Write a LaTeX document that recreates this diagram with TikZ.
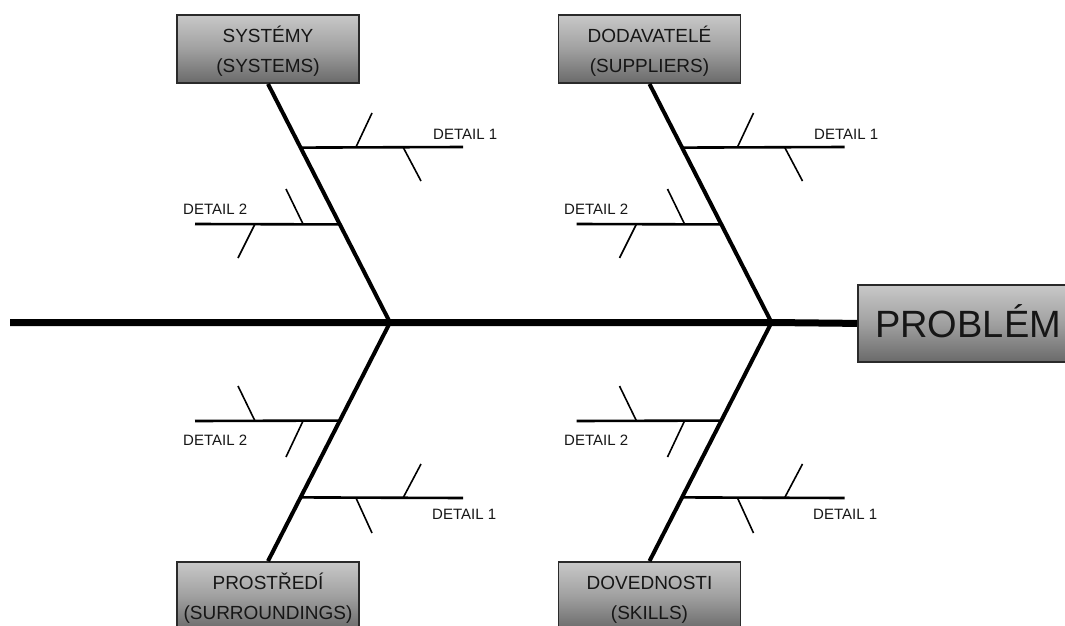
\documentclass[tikz,border=0pt]{standalone}
\usepackage{fontspec}
\setmainfont{Liberation Sans}
\usetikzlibrary{calc}
\definecolor{boxtop}{HTML}{C8C8C8}
\definecolor{boxmid}{HTML}{A0A0A0}
\definecolor{boxbot}{HTML}{6A6A6A}
\definecolor{edgec}{HTML}{2A2A2A}
\definecolor{ink}{HTML}{161616}
\begin{document}
\begin{tikzpicture}[x=1pt,y=-1pt,
  catbox/.style={draw=edgec, line width=1.8pt, top color=boxtop, bottom color=boxbot, middle color=boxmid, minimum width=182pt, minimum height=68pt, inner sep=0pt},
  probbox/.style={draw=edgec, line width=1.8pt, top color=boxtop, bottom color=boxbot, middle color=boxmid, minimum width=215pt, minimum height=77pt, inner sep=0pt, anchor=north west},
  cattext/.style={font=\fontsize{19}{19}\selectfont, text=ink, anchor=base, inner sep=0pt},
  probtext/.style={font=\fontsize{38}{38}\selectfont, text=ink, anchor=base west, inner sep=0pt},
  detail/.style={font=\fontsize{15}{15}\selectfont, text=ink, anchor=base west, inner sep=0pt},
  spine/.style={line width=7pt},
  bone/.style={line width=4pt},
  subbone/.style={line width=2.6pt},
  rib/.style={line width=1.6pt}]
\useasboundingbox (0,0) rectangle (1065,626);
\clip (0,0) rectangle (1065,626);
\fill[white] (0,0) rectangle (1065,626);

% junctions and tail
\coordinate (tail) at (10,322.5);
\coordinate (j1) at (390,322.5);
\coordinate (j2) at (771.5,322.5);

% boxes
\node[catbox] (sys) at (268,49) {};
\node[catbox] (sup) at (649.5,49) {};
\node[catbox] (env) at (268,596) {};
\node[catbox] (skl) at (649.5,596) {};
\node[probbox] (prob) at (857,284) {};

% spine
\draw[spine] (tail) -- (j1) -- (j2) -- (prob.west);

% bones
\draw[bone] (sys.south) -- (j1);
\draw[bone] (j1) -- (env.north);
\draw[bone] (sup.south) -- (j2);
\draw[bone] (j2) -- (skl.north);

% ---- left half ----
\coordinate (s1) at ($(sys.south)!0.267!(j1)$);
\coordinate (e1) at (463,147);
\coordinate (s2) at ($(sys.south)!0.589!(j1)$);
\coordinate (e2) at (195,224);
\coordinate (s3) at ($(j1)!0.411!(env.north)$);
\coordinate (e3) at (195,421);
\coordinate (s4) at ($(j1)!0.733!(env.north)$);
\coordinate (e4) at (463,498);
\draw[subbone] (s1) -- (e1);
\draw[subbone] (s2) -- (e2);
\draw[subbone] (s3) -- (e3);
\draw[subbone] (s4) -- (e4);
\draw[rib] (356,147) -- (372,113);
\draw[rib] (403,147) -- (421,181);
\draw[rib] (303,224) -- (286,189);
\draw[rib] (255,224) -- (238,258);
\draw[rib] (255,421) -- (238,386);
\draw[rib] (303,421) -- (286,457);
\draw[rib] (356,498) -- (372,533);
\draw[rib] (403,498) -- (421,464);

% ---- right half ----
\coordinate (r1) at ($(sup.south)!0.267!(j2)$);
\coordinate (f1) at (844.5,147);
\coordinate (r2) at ($(sup.south)!0.589!(j2)$);
\coordinate (f2) at (576.5,224);
\coordinate (r3) at ($(j2)!0.411!(skl.north)$);
\coordinate (f3) at (576.5,421);
\coordinate (r4) at ($(j2)!0.733!(skl.north)$);
\coordinate (f4) at (844.5,498);
\draw[subbone] (r1) -- (f1);
\draw[subbone] (r2) -- (f2);
\draw[subbone] (r3) -- (f3);
\draw[subbone] (r4) -- (f4);
\begin{scope}[xshift=381.5pt]
\draw[rib] (356,147) -- (372,113);
\draw[rib] (403,147) -- (421,181);
\draw[rib] (303,224) -- (286,189);
\draw[rib] (255,224) -- (238,258);
\draw[rib] (255,421) -- (238,386);
\draw[rib] (303,421) -- (286,457);
\draw[rib] (356,498) -- (372,533);
\draw[rib] (403,498) -- (421,464);
\end{scope}

% box texts
\node[cattext] (sysA) at ($(sys.north)+(0,28)$) {SYSTÉMY};
\node[cattext] (sysB) at ($(sys.north)+(0,58.5)$) {(SYSTEMS)};
\node[cattext] (supA) at ($(sup.north)+(0,28)$) {DODAVATELÉ};
\node[cattext] (supB) at ($(sup.north)+(0,58.5)$) {(SUPPLIERS)};
\node[cattext] (envA) at ($(env.north)+(0,28)$) {PROSTŘEDÍ};
\node[cattext] (envB) at ($(env.north)+(0,58.5)$) {(SURROUNDINGS)};
\node[cattext] (sklA) at ($(skl.north)+(0,28)$) {DOVEDNOSTI};
\node[cattext] (sklB) at ($(skl.north)+(0,58.5)$) {(SKILLS)};
\node[probtext] (probT) at (875,337) {PROBLÉM};

% detail labels
\node[detail] (d1) at (433,139) {DETAIL 1};
\node[detail] (d2) at (183,214) {DETAIL 2};
\node[detail] (d3) at (183,445) {DETAIL 2};
\node[detail] (d4) at (432,519) {DETAIL 1};
\node[detail] (d5) at (814,139) {DETAIL 1};
\node[detail] (d6) at (564,214) {DETAIL 2};
\node[detail] (d7) at (564,445) {DETAIL 2};
\node[detail] (d8) at (813,519) {DETAIL 1};
\end{tikzpicture}
\end{document}
